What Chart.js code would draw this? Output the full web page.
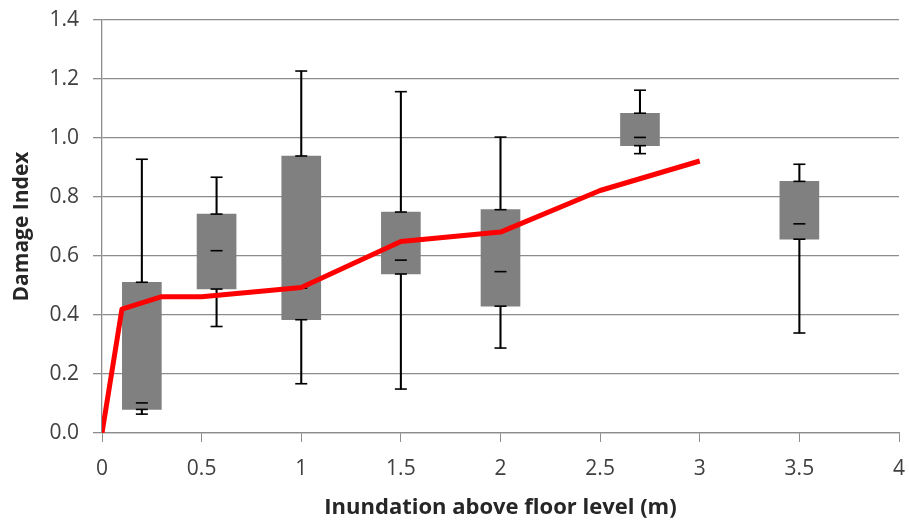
<!DOCTYPE html>
<html>
<head>
<meta charset="utf-8">
<script src="https://cdn.jsdelivr.net/npm/chart.js@4/dist/chart.umd.min.js"></script>
<style>
  html, body { margin: 0; padding: 0; background: #fff; }
  #wrap { width: 909px; height: 521px; position: relative; }
</style>
</head>
<body>
<div id="wrap"><canvas id="c" width="909" height="521"></canvas></div>
<script>
// ---- data ----
const boxPositions = [0.2, 0.575, 1.0, 1.5, 2.0, 2.7, 3.5];
const whiskerMin   = [0.064, 0.361, 0.167, 0.149, 0.288, 0.947, 0.339];
const quartile1    = [0.080, 0.488, 0.384, 0.539, 0.430, 0.974, 0.657];
const medians      = [0.102, 0.618, 0.491, 0.586, 0.547, 1.002, 0.709];
const quartile3    = [0.511, 0.742, 0.939, 0.749, 0.757, 1.084, 0.853];
const whiskerMax   = [0.928, 0.867, 1.227, 1.157, 1.003, 1.162, 0.911];

const lineX = [0, 0.1, 0.3, 0.5, 1.0, 1.5, 2.0, 2.5, 3.0];
const lineY = [0.0, 0.42, 0.462, 0.462, 0.493, 0.649, 0.681, 0.822, 0.922];

const xTickValues = [0, 0.5, 1, 1.5, 2, 2.5, 3, 3.5, 4];
const yTickValues = [0, 0.2, 0.4, 0.6, 0.8, 1.0, 1.2, 1.4];

const xTitle = 'Inundation above floor level (m)';
const yTitle = 'Damage Index';

// ---- build datasets ----
const whiskerData = boxPositions.map((x, i) => ({ x: x, y: [whiskerMin[i], whiskerMax[i]] }));
const boxData = boxPositions.map((x, i) => ({ x: x, y: [quartile1[i], quartile3[i]] }));
const capData = [];
boxPositions.forEach((x, i) => {
  [whiskerMin[i], quartile1[i], medians[i], quartile3[i], whiskerMax[i]].forEach(v => capData.push({ x: x, y: v }));
});
const lineData = lineX.map((x, i) => ({ x: x, y: lineY[i] }));

const tickFont = { family: 'Open Sans', size: 21 };
const xTitleFont = { family: 'Open Sans', size: 22, weight: 'bold' };
const yTitleFont = { family: 'Open Sans', size: 21, weight: 'bold' };

new Chart(document.getElementById('c'), {
  type: 'bar',
  data: {
    datasets: [
      {
        type: 'line', data: lineData, borderColor: '#ff0000', borderWidth: 5,
        pointRadius: 0, fill: false, tension: 0, order: 0, borderJoinStyle: 'round'
      },
      {
        type: 'scatter', data: capData, pointStyle: 'line', pointRadius: 6,
        borderColor: '#000', borderWidth: 1.6, order: 1
      },
      {
        type: 'bar', data: boxData, backgroundColor: '#808080', borderWidth: 0,
        barThickness: 39, grouped: false, order: 2
      },
      {
        type: 'bar', data: whiskerData, backgroundColor: '#000', borderWidth: 0,
        barThickness: 1.4, grouped: false, order: 3
      }
    ]
  },
  options: {
    responsive: false,
    animation: false,
    events: [],
    layout: { padding: { top: 20, right: 10, left: 0, bottom: 0 } },
    plugins: { legend: { display: false }, tooltip: { enabled: false } },
    scales: {
      x: {
        type: 'linear', min: 0, max: 4, offset: false,
        afterBuildTicks: s => { s.ticks = xTickValues.map(v => ({ value: v })); },
        afterFit: s => { s.height = 88; s.paddingLeft = 0; s.paddingRight = 0; },
        grid: { display: true, drawOnChartArea: false, drawTicks: true, tickLength: 9,
                color: '#8c8c8c', lineWidth: 1, offset: false },
        border: { display: true, color: '#8c8c8c', width: 1.3 },
        ticks: { font: tickFont, color: '#404040', padding: 14, maxRotation: 0,
                 callback: v => String(v) },
        title: { display: true, text: xTitle, font: xTitleFont, color: '#262626',
                 padding: { top: 0, bottom: 0 } }
      },
      y: {
        type: 'linear', min: 0, max: 1.4,
        afterBuildTicks: s => { s.ticks = yTickValues.map(v => ({ value: v })); },
        afterFit: s => { s.width = 102; s.paddingTop = 0; s.paddingBottom = 0; },
        grid: { color: '#8c8c8c', lineWidth: 1.3, tickLength: 9 },
        border: { display: true, color: '#8c8c8c', width: 1.3 },
        ticks: { font: tickFont, color: '#404040', padding: 14,
                 callback: v => Number(v).toFixed(1) },
        title: { display: true, text: yTitle, font: yTitleFont, color: '#262626',
                 padding: { top: 9, bottom: 0 } }
      }
    }
  }
});
</script>
</body>
</html>
